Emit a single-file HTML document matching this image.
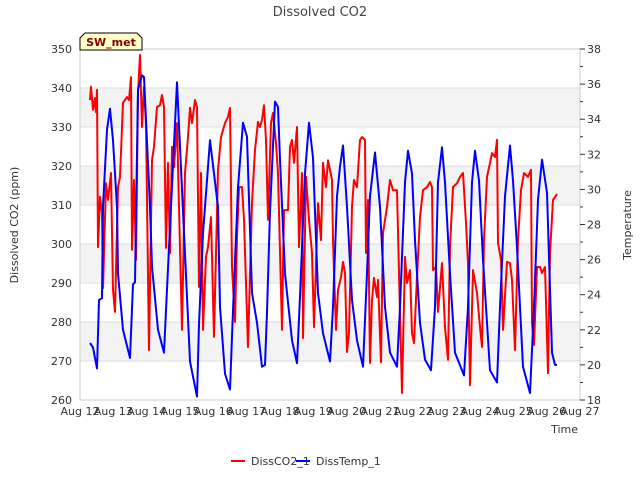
<!DOCTYPE html>
<html><head><meta charset="utf-8"><style>
body{margin:0;background:#fff;font-family:"Liberation Sans",sans-serif;}
svg text{font-family:"DejaVu Sans","Liberation Sans",sans-serif;}
</style></head><body>
<svg id="chart" width="640" height="480">
<text x="320" y="16" text-anchor="middle" font-size="13" fill="#444">Dissolved CO2</text>
<g id="bands"></g><g id="grid"></g>
<rect x="80" y="49" width="500" height="351" fill="none" stroke="#ccc"/>
<g id="series"></g><g id="axes"></g>
<text transform="translate(18,225) rotate(-90)" text-anchor="middle" font-size="11" fill="#333">Dissolved CO2 (ppm)</text>
<text transform="translate(631,225) rotate(-90)" text-anchor="middle" font-size="11" fill="#333">Temperature</text>
<text x="578" y="433" text-anchor="end" font-size="11" fill="#333">Time</text>
<g>
<path d="M80,50 L80,38 L85,33 L137,33 L142,38 L142,50 Z" fill="#ffffc8" stroke="#000"/>
<text x="111" y="46" text-anchor="middle" font-size="11" font-weight="bold" fill="#8b0000">SW_met</text></g>
<g>
<g><line x1="231" y1="461" x2="245" y2="461" stroke="#f00" stroke-width="2"/><text x="251" y="465" font-size="11" fill="#333">DissCO2_1</text></g>
<g><line x1="296" y1="461" x2="310" y2="461" stroke="#00f" stroke-width="2"/><text x="316" y="465" font-size="11" fill="#333">DissTemp_1</text></g>
</g>
</svg>
<script>
const xTickLabels=["Aug 12","Aug 13","Aug 14","Aug 15","Aug 16","Aug 17","Aug 18","Aug 19","Aug 20","Aug 21","Aug 22","Aug 23","Aug 24","Aug 25","Aug 26","Aug 27"];
const leftTicks=[260,270,280,290,300,310,320,330,340,350];
const rightTicks=[18,20,22,24,26,28,30,32,34,36,38];
const tempDays=[.30,.39,.51,.57,.66,.69,.81,.90,.99,1.11,1.14,1.29,1.50,1.59,1.65,1.74,1.86,1.92,2.10,2.16,2.34,2.52,2.61,2.91,3.30,3.51,3.57,3.69,3.90,4.14,4.20,4.35,4.50,4.59,4.74,4.89,5.01,5.16,5.31,5.46,5.55,5.61,5.70,5.85,5.94,6.00,6.15,6.36,6.51,6.60,6.75,6.87,6.99,7.14,7.29,7.50,7.59,7.71,7.80,7.89,8.01,8.16,8.31,8.49,8.61,8.70,8.85,9.00,9.15,9.30,9.51,9.60,9.75,9.84,9.96,10.05,10.20,10.35,10.53,10.65,10.74,10.86,10.95,11.10,11.25,11.52,11.64,11.76,11.85,11.97,12.09,12.30,12.51,12.60,12.75,12.90,12.99,13.11,13.29,13.50,13.62,13.74,13.86,14.01,14.16,14.25,14.31];
const tempVals=[21.25,21.0,19.8,23.7,23.8,29.0,33.4,34.6,32.8,29.0,25.2,22.0,20.4,24.6,24.7,35.7,36.5,36.4,29.0,25.6,22.0,20.7,24.3,36.1,20.2,18.2,22.3,27.5,32.8,29.0,23.3,19.5,18.6,23.1,30.1,33.8,33.0,24.1,22.4,19.9,20.0,23.0,28.7,35.0,34.7,31.7,25.2,21.4,20.1,23.9,30.9,33.8,31.8,24.1,21.8,20.2,23.3,29.6,31.3,32.5,29.0,23.7,21.4,19.9,25.2,29.6,32.1,29.0,23.3,20.7,19.9,23.3,30.4,32.2,30.9,27.1,22.4,20.3,19.7,23.3,30.4,32.4,30.4,25.2,20.7,19.4,23.3,30.4,32.2,30.5,26.0,19.7,19.0,23.3,29.6,32.5,30.5,26.7,19.9,18.4,23.3,29.4,31.7,29.8,20.7,20.0,20.0];
const co2Days=[.30,.33,.39,.45,.48,.51,.54,.60,.66,.69,.78,.84,.93,.99,1.05,1.14,1.20,1.29,1.41,1.47,1.53,1.56,1.62,1.68,1.74,1.80,1.86,1.92,1.98,2.07,2.16,2.22,2.31,2.40,2.46,2.52,2.58,2.64,2.70,2.76,2.82,2.91,2.97,3.06,3.15,3.24,3.30,3.36,3.45,3.51,3.57,3.63,3.69,3.78,3.84,3.93,4.02,4.14,4.23,4.35,4.44,4.50,4.56,4.65,4.71,4.77,4.86,4.92,5.04,5.16,5.25,5.34,5.40,5.46,5.52,5.58,5.64,5.73,5.79,5.88,5.94,6.06,6.12,6.24,6.30,6.36,6.42,6.51,6.57,6.66,6.69,6.78,6.87,6.96,7.02,7.14,7.23,7.29,7.38,7.44,7.56,7.59,7.68,7.74,7.83,7.89,7.95,8.01,8.07,8.16,8.22,8.31,8.40,8.46,8.55,8.58,8.64,8.70,8.76,8.82,8.91,8.94,9.03,9.09,9.21,9.30,9.39,9.51,9.57,9.66,9.75,9.81,9.90,9.96,10.02,10.11,10.20,10.29,10.41,10.50,10.56,10.59,10.68,10.74,10.86,10.95,11.04,11.10,11.19,11.31,11.40,11.49,11.58,11.64,11.70,11.79,11.91,12.00,12.06,12.12,12.21,12.30,12.36,12.45,12.51,12.54,12.63,12.69,12.81,12.90,12.96,13.05,13.14,13.23,13.32,13.44,13.53,13.56,13.62,13.71,13.80,13.86,13.95,14.04,14.10,14.19,14.31];
const co2Vals=[336.9,340.3,334.4,337.4,333.8,339.5,299.2,312.1,308.0,288.7,315.6,311.3,318.2,288.2,282.6,314.6,317.2,336.2,337.7,336.9,342.8,298.5,316.4,295.9,338.7,348.5,330.0,340.3,331.0,272.8,321.5,324.9,335.1,335.6,338.2,335.1,299.0,320.8,297.7,324.9,319.7,331.0,309.5,278.0,318.2,327.4,334.9,331.0,336.9,335.1,289.0,318.2,278.0,296.7,299.2,306.9,276.2,319.0,327.4,331.0,332.6,334.9,294.1,280.0,301.8,314.6,314.6,306.2,273.6,310.5,324.1,331.3,330.0,331.8,335.6,326.7,306.2,331.0,333.6,325.9,318.2,278.0,308.7,308.7,324.9,326.7,320.8,330.0,299.2,318.2,275.9,317.2,306.2,297.7,278.7,310.5,301.0,320.8,314.6,321.5,316.4,301.0,278.0,288.2,291.5,295.4,292.6,272.3,277.2,309.5,316.4,314.6,326.7,327.4,326.7,297.7,311.3,269.5,285.6,291.3,286.4,290.8,269.7,302.8,309.5,316.4,313.8,313.8,292.6,261.8,296.7,290.0,293.3,277.2,274.6,291.5,306.9,313.8,314.6,315.9,314.6,293.3,294.1,282.6,295.1,278.7,270.3,299.2,314.6,315.6,317.2,318.2,305.4,295.1,263.8,293.3,287.4,278.7,273.6,301.0,317.2,320.8,323.3,322.3,326.7,300.3,295.9,278.0,295.4,295.1,290.8,272.8,301.0,313.8,318.2,317.2,319.0,279.7,274.1,294.1,294.1,292.6,294.1,266.9,297.7,311.3,312.8];

const NS="http://www.w3.org/2000/svg";
const X0=80,X1=580,Y0=49,Y1=400;
const xS=d=>X0+(X1-X0)*d/15;
const yL=v=>Y1-(Y1-Y0)*(v-260)/90;
const yR=v=>Y1-(Y1-Y0)*(v-18)/20;
function mk(tag,attrs,parent){const e=document.createElementNS(NS,tag);for(const k in attrs)e.setAttribute(k,attrs[k]);parent.appendChild(e);return e;}
const bands=document.getElementById('bands'),grid=document.getElementById('grid'),axes=document.getElementById('axes'),series=document.getElementById('series');
for(let i=0;i<leftTicks.length-1;i++){
  if(i%2===1){const r=mk('rect',{x:X0,y:yL(leftTicks[i+1]),width:X1-X0,height:yL(leftTicks[i])-yL(leftTicks[i+1]),fill:'#f3f3f3'},bands);
  
  }
}
leftTicks.forEach(v=>{
  const l=mk('line',{x1:X0,x2:X1,y1:yL(v),y2:yL(v),stroke:'#ddd'},grid);
  
  
  const t=mk('text',{x:72,y:yL(v)+4,'text-anchor':'end','font-size':'11',fill:'#333'},axes);t.textContent=v;
  
  
});
for(let v=18;v<=38;v++){
  const l=mk('line',{x1:X1,x2:X1+(v%2===0?5:3),y1:yR(v),y2:yR(v),stroke:'#333'},axes);
  
  
}
rightTicks.forEach(v=>{
  const t=mk('text',{x:587,y:yR(v)+4,'font-size':'11',fill:'#333'},axes);t.textContent=v;
  
  
});
xTickLabels.forEach((s,i)=>{
  const t=mk('text',{x:xS(i),y:415,'text-anchor':'middle','font-size':'11',fill:'#333'},axes);t.textContent=s;
  
  
});
const p1=mk('polyline',{points:co2Days.map((d,i)=>xS(d).toFixed(1)+','+yL(co2Vals[i]).toFixed(1)).join(' '),fill:'none',stroke:'#f00','stroke-width':'2','stroke-linejoin':'round'},series);


const p2=mk('polyline',{points:tempDays.map((d,i)=>xS(d).toFixed(1)+','+yR(tempVals[i]).toFixed(1)).join(' '),fill:'none',stroke:'#00f','stroke-width':'2','stroke-linejoin':'round'},series);


</script>
</body></html>
